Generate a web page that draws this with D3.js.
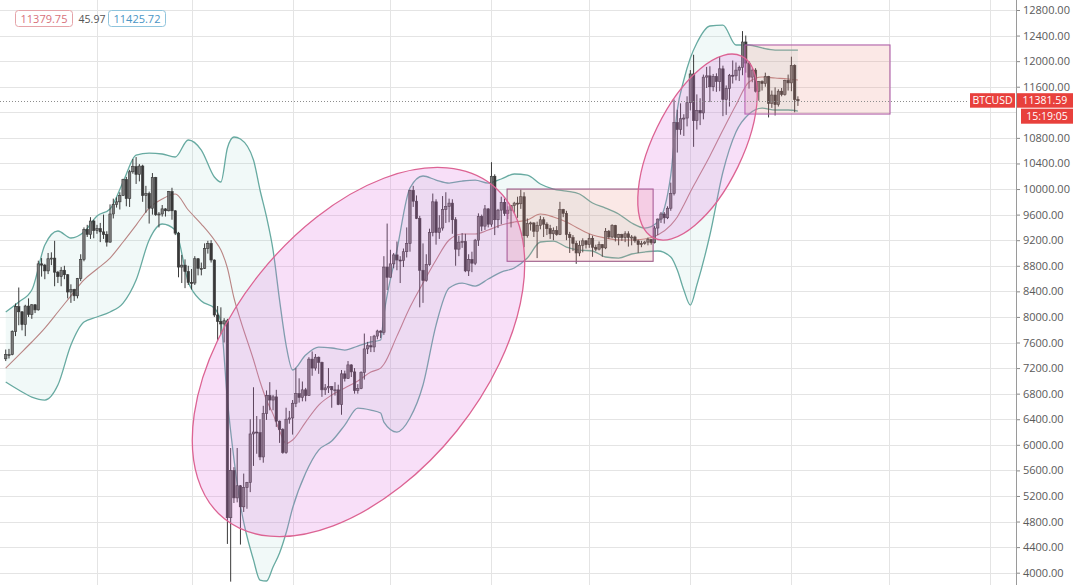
<!DOCTYPE html>
<html><head><meta charset="utf-8">
<script src="https://cdn.jsdelivr.net/npm/d3@7"></script>
<style>
body{margin:0;background:#fff;}
svg{display:block;font-family:"Open Sans",sans-serif;}
</style>
</head><body>
<svg id="chart" width="1080" height="585"></svg>
<script>
// ---------- DATA (BTCUSD daily) ----------
const firstDay = "2020-01-04";
const opens = [
 // Jan 4-31
 7345,7410,7410,7770,8160,8080,7880,8170,8040,8190,8110,8830,8810,8720,8910,8920,8700,8630,8730,8660,8390,8430,8330,8600,8900,9370,9290,9500,
 // Feb
 9350,9380,9330,9290,9170,9610,9760,9800,9900,10150,9850,10270,10350,10230,10360,9900,9930,9700,10180,9600,9610,9690,9660,9960,9660,9310,8780,8810,8710,
 // Mar
 8540,8530,8910,8760,8760,9070,9150,8890,8030,7930,7890,7940,4860,5600,5170,5360,5030,5330,5410,6170,6200,6190,5810,6490,6770,6700,6750,6370,6240,5880,6400,
 // Apr
 6420,6650,6800,6740,6860,6770,7340,7200,7370,7290,6860,6890,6910,6860,6860,6630,7110,7040,7250,7140,6850,6880,7130,7500,7550,7530,7700,7780,7760,8780,
 // May
 8620,8830,8970,8890,8880,9020,9150,9980,9810,9540,8730,8570,8820,9320,9800,9320,9390,9680,9730,9780,9520,9060,9170,9180,8720,8900,8840,9200,9570,9420,9690,
 // Jun
 9450,10200,9520,9670,9790,9620,9670,9740,9780,9770,9880,9270,9460,9470,9340,9430,9520,9450,9380,9300,9350,9290,9680,9620,9290,9240,9150,9000,9120,9190,
 // Jul
 9130,9230,9090,9060,9130,9080,9340,9250,9430,9240,9290,9240,9300,9240,9250,9190,9130,9150,9170,9210,9160,9390,9530,9610,9550,9700,9930,11040,10930,11100,11110,
 // Aug
 11350,11800,11070,11230,11190,11750,11770,11600,11760,11680,11880,11400,11570,11780,11770,11860,11900,12300,11970,11750,11860,11530,11680,11650,11760,11340,11470,11320,11530,11480,11700,
 // Sep 1-3
 11660,11930,11400
];
const highs = [
 7490,7500,7790,8210,8460,8090,8190,8290,8200,8200,8880,8920,8830,9000,9010,9190,8720,8780,8800,8670,8510,8440,8610,8980,9400,9440,9560,9520,
 9440,9470,9600,9340,9760,9850,9870,9950,10160,10190,10300,10470,10500,10390,10380,10050,9960,10250,10190,9640,9750,9700,9970,10020,9670,9330,8970,8900,8800,
 8750,8950,8920,8850,9150,9190,9200,8900,8170,8150,7980,7970,5950,5650,5950,5370,5550,5420,6400,6900,6450,6400,6610,6850,6980,6780,6860,6380,6260,6580,6530,
 6700,7200,7040,6990,6890,7370,7460,7420,7380,7300,6950,7200,6920,6980,6940,7170,7160,7310,7260,7200,6950,7150,7740,7610,7700,7720,7800,7790,8950,9460,
 9050,9000,9180,8950,9070,9400,9990,10050,9900,9580,9150,8980,9380,9930,9840,9590,9890,9950,9850,9840,9560,9270,9310,9300,8980,9020,9220,9620,9600,9750,9700,
 10420,10230,9690,9880,9850,9730,9750,9800,9880,9990,9950,9540,9490,9480,9490,9580,9560,9480,9440,9400,9420,9800,9690,9660,9330,9280,9190,9190,9230,9200,
 9300,9270,9130,9180,9140,9390,9360,9450,9440,9300,9300,9340,9340,9280,9270,9210,9190,9190,9240,9220,9420,9540,9640,9640,9730,10100,11400,11240,11340,11170,11450,
 11860,12100,11480,11420,11790,11910,11920,11800,11810,12070,11930,11620,11800,12010,11980,11930,12470,12400,12000,11890,11890,11690,11700,11820,11770,11540,11590,11560,11580,11710,11790,
 12070,11950,11450
];
const lows = [
 7310,7350,7400,7700,7870,7790,7700,8000,7970,8060,8100,8630,8590,8670,8810,8480,8530,8480,8590,8290,8220,8250,8290,8560,8870,9250,9220,9230,
 9300,9170,9220,9100,9160,9540,9710,9680,9890,9730,9720,10240,10080,10120,9800,9630,9460,9600,9580,9400,9570,9570,9650,9520,9280,8620,8530,8450,8500,
 8430,8500,8650,8650,8750,8990,8850,8000,7630,7730,7600,4450,3860,5090,5100,4440,4950,5000,5260,5670,5860,5760,5720,6390,6540,6540,6280,6030,5860,5860,6330,
 6160,6590,6660,6680,6680,6770,7080,7160,7110,6750,6780,6810,6580,6770,6620,6470,6990,7030,7060,6800,6800,6870,7020,7420,7450,7450,7650,7670,7720,8420,
 8620,8760,8730,8530,8780,8930,9020,9720,9530,8150,8220,8550,8800,9260,9130,9220,9350,9470,9480,9300,8800,8950,9080,8700,8640,8700,8810,9110,9340,9360,9400,
 9410,9280,9390,9450,9580,9530,9400,9620,9550,9690,9090,9240,9350,9250,8920,9370,9250,9280,9220,9200,9270,9280,9560,9200,9000,9030,8830,8950,9010,9070,
 9080,8940,9030,9040,8940,9060,9220,9230,9180,9120,9190,9170,9100,9120,9160,9000,9090,9130,9120,9130,9150,9280,9470,9460,9530,9660,9900,10570,10850,10830,10980,
 11230,10660,10930,11000,11090,11580,11360,11530,11520,11530,11140,11160,11290,11650,11700,11690,11780,11820,11570,11670,11510,11380,11540,11600,11120,11270,11150,11290,11450,11460,11540,
 11530,11200,11300
];
const closes = [
 7410,7410,7770,8160,8080,7880,8170,8040,8190,8110,8830,8810,8720,8910,8920,8700,8630,8730,8660,8390,8430,8330,8600,8900,9370,9290,9500,9350,
 9380,9330,9290,9170,9610,9760,9800,9900,10150,9850,10270,10350,10230,10360,9900,9930,9700,10180,9600,9610,9690,9660,9960,9660,9310,8780,8810,8710,8540,
 8530,8910,8760,8760,9070,9150,8890,8030,7930,7890,7940,4860,5600,5170,5360,5030,5330,5410,6170,6200,6190,5810,6490,6770,6700,6750,6370,6240,5880,6400,6420,
 6650,6800,6740,6860,6770,7340,7200,7370,7290,6860,6890,6910,6860,6860,6630,7110,7040,7250,7140,6850,6880,7130,7500,7550,7530,7700,7780,7760,8780,8620,
 8830,8970,8890,8880,9020,9150,9980,9810,9540,8730,8570,8820,9320,9800,9320,9390,9680,9730,9780,9520,9060,9170,9180,8720,8900,8840,9200,9570,9420,9690,9450,
 10200,9520,9670,9790,9620,9670,9740,9780,9770,9880,9270,9460,9470,9340,9430,9520,9450,9380,9300,9350,9290,9680,9620,9290,9240,9150,9000,9120,9190,9130,
 9230,9090,9060,9130,9080,9340,9250,9430,9240,9290,9240,9300,9240,9250,9190,9130,9150,9170,9210,9160,9390,9530,9610,9550,9700,9930,11040,10930,11100,11110,11350,
 11800,11070,11230,11190,11750,11770,11600,11760,11680,11880,11400,11570,11780,11770,11860,11900,12300,11970,11750,11860,11530,11680,11650,11760,11340,11470,11320,11530,11480,11700,11660,
 11930,11400,11380
];

// Bollinger bands
const bbDates = ["2020-01-04","2020-01-08","2020-01-12","2020-01-16","2020-01-20","2020-01-24","2020-01-28","2020-02-01","2020-02-05","2020-02-09",
 "2020-02-13","2020-02-17","2020-02-21","2020-02-25","2020-02-29","2020-03-04","2020-03-08","2020-03-10","2020-03-12","2020-03-14",
 "2020-03-16","2020-03-20","2020-03-22","2020-03-24","2020-03-26","2020-03-28","2020-03-30","2020-04-01","2020-04-05","2020-04-09",
 "2020-04-13","2020-04-17","2020-04-21","2020-04-25","2020-04-28","2020-04-29","2020-05-03","2020-05-07","2020-05-11","2020-05-15",
 "2020-05-19","2020-05-23","2020-05-27","2020-05-31","2020-06-04","2020-06-08","2020-06-12","2020-06-16","2020-06-20","2020-06-24",
 "2020-06-28","2020-07-02","2020-07-06","2020-07-10","2020-07-14","2020-07-18","2020-07-22","2020-07-26","2020-07-28","2020-07-30",
 "2020-08-01","2020-08-03","2020-08-07","2020-08-11","2020-08-15","2020-08-19","2020-08-23","2020-08-27","2020-08-31","2020-09-03"];
const bbUpper = [8077,8233,8421,9125,9344,9234,9328,9578,9688,10110,
 10532,10563,10548,10501,10767,10610,10188,10110,10642,10814,
 10782,10454,9985,9563,9046,8264,7561,7170,7404,7529,
 7514,7482,7545,7608,7639,8030,9046,10016,10204,10141,
 10094,10125,10141,10094,10157,10235,10219,10079,10000,9969,
 9922,9781,9703,9609,9469,9390,9484,10219,11236,11705,
 12049,12284,12550,12565,12253,12253,12206,12174,12174,12174];
const bbMiddle = [7201,7404,7608,7826,8077,8330,8580,8750,8921,9172,
 9437,9703,9844,9922,9672,9453,9203,9046,8765,8300,
 7952,7330,6990,6700,6480,6220,6020,6075,6356,6622,
 6779,6888,6998,7138,7200,7260,7700,8150,8530,8890,
 9203,9297,9297,9359,9437,9484,9516,9609,9563,9484,
 9375,9281,9234,9203,9203,9218,9281,9437,9563,9750,
 9954,10141,10517,10923,11314,11674,11752,11736,11721,11705];
const bbLower = [6982,6857,6747,6700,6935,7561,7920,7999,8077,8217,
 8577,9203,9453,9359,8546,8249,8139,7920,6700,5780,
 5058,4200,3885,3870,4089,4307,4620,5011,5559,5918,
 6059,6309,6575,6544,6497,6356,6200,6419,6935,7873,
 8452,8530,8483,8593,8702,8765,8921,9172,9187,9093,
 9046,9031,8937,8921,8984,9015,9031,8937,8734,8421,
 8186,8499,9281,10266,10892,11173,11267,11236,11236,11220];

const priceTicks = [4000,4400,4800,5200,5600,6000,6400,6800,7200,7600,8000,8400,8800,9200,9600,10000,10400,10800,11200,11600,12000,12400,12800];
const lastPrice = 11381.59;
const symbol = "BTCUSD";
const countdown = "15:19:05";
const legendValues = ["11379.75","45.97","11425.72"];

// Drawings: rectangles [start, end, top price, bottom price]
const rectStarts = ["2020-06-05T19:00:00Z","2020-08-17T18:00:00Z"];
const rectEnds   = ["2020-07-20T14:00:00Z","2020-10-01T06:00:00Z"];
const rectTops   = [10000, 12253];
const rectBottoms= [8870, 11173];
// Ellipses: centre, major-axis tip, minor-axis tip (date, price)
const ellCentreDates = ["2020-04-21T05:00:00Z","2020-08-03T05:00:00Z"];
const ellCentrePrices = [7451, 10657];
const ellMajorDates = ["2020-06-01T08:00:00Z","2020-08-16T17:00:00Z"];
const ellMajorPrices = [10060, 12079];
const ellMinorDates = ["2020-05-21T08:00:00Z","2020-08-15T15:00:00Z"];
const ellMinorPrices = [6216, 10351];

// ---------- CHART ----------
const W = 1080, H = 585, axisX = 1016;
const svg = d3.select("#chart");
const parseDay = d3.utcParse("%Y-%m-%d");
const start = parseDay(firstDay);
const dates = closes.map((_, i) => d3.utcDay.offset(start, i));

const x = d3.scaleUtc()
  .domain([new Date(Date.UTC(2020,0,1)), new Date(Date.UTC(2020,9,1))])
  .range([-4.06, 889.2]);
const y = d3.scaleLinear().domain([4000, 12800]).range([572.7, 10]);

svg.append("defs").append("clipPath").attr("id","plot")
  .append("rect").attr("x",0).attr("y",0).attr("width",axisX).attr("height",H);

const plot = svg.append("g").attr("clip-path","url(#plot)");

// grid
const months = d3.utcMonth.range(new Date(Date.UTC(2020,1,1)), new Date(Date.UTC(2020,10,2)));
plot.append("g").selectAll("line").data(months).join("line")
  .attr("x1", d => Math.round(x(d)) + 0.5).attr("x2", d => Math.round(x(d)) + 0.5)
  .attr("y1", 0).attr("y2", H).attr("stroke", "#e4e4e4").attr("stroke-width", 1);
plot.append("g").selectAll("line").data(priceTicks).join("line")
  .attr("x1", 0).attr("x2", axisX)
  .attr("y1", d => Math.round(y(d)) + 0.5).attr("y2", d => Math.round(y(d)) + 0.5)
  .attr("stroke", "#e4e4e4").attr("stroke-width", 1);

// Bollinger bands
const bb = bbDates.map((d, i) => ({date: parseDay(d), u: bbUpper[i], m: bbMiddle[i], l: bbLower[i]}));
plot.append("path").datum(bb)
  .attr("d", d3.area().x(d => x(d.date)).y0(d => y(d.l)).y1(d => y(d.u)).curve(d3.curveMonotoneX))
  .attr("fill", "rgba(130,200,190,0.11)");
const lineGen = key => d3.line().x(d => x(d.date)).y(d => y(d[key])).curve(d3.curveMonotoneX);
plot.append("path").datum(bb).attr("d", lineGen("u")).attr("fill","none").attr("stroke","#67aaa1").attr("stroke-width",1.3);
plot.append("path").datum(bb).attr("d", lineGen("l")).attr("fill","none").attr("stroke","#67aaa1").attr("stroke-width",1.3);
plot.append("path").datum(bb).attr("d", lineGen("m")).attr("fill","none").attr("stroke","#b98584").attr("stroke-width",1.1);

// candles
const candles = dates.map((d, i) => ({date: d, o: opens[i], h: highs[i], l: lows[i], c: closes[i]}));
const cg = plot.append("g");
cg.selectAll("line").data(candles).join("line")
  .attr("x1", d => x(d.date)).attr("x2", d => x(d.date))
  .attr("y1", d => y(d.h)).attr("y2", d => y(d.l))
  .attr("stroke", "#3a3a3a").attr("stroke-width", 1);
cg.selectAll("rect").data(candles).join("rect")
  .attr("x", d => x(d.date) - 1.2).attr("width", 2.4)
  .attr("y", d => y(Math.max(d.o, d.c)))
  .attr("height", d => Math.max(1, Math.abs(y(d.o) - y(d.c))))
  .attr("fill", d => d.c >= d.o ? "#7a7a7a" : "#383838")
  .attr("stroke", "#383838").attr("stroke-width", 0.6);

// rectangles
const iso = d3.isoParse;
rectStarts.forEach((s, i) => {
  const x0 = x(iso(s)), x1 = x(iso(rectEnds[i]));
  plot.append("rect")
    .attr("x", x0).attr("y", y(rectTops[i]))
    .attr("width", x1 - x0).attr("height", y(rectBottoms[i]) - y(rectTops[i]))
    .attr("fill", "rgba(236,140,130,0.2)")
    .attr("stroke", i === 0 ? "#9c5a87" : "#b060a8").attr("stroke-width", 1.1);
});

// ellipses
ellCentreDates.forEach((s, i) => {
  const cx = x(iso(s)), cy = y(ellCentrePrices[i]);
  const mx = x(iso(ellMajorDates[i])), my = y(ellMajorPrices[i]);
  const nx = x(iso(ellMinorDates[i])), ny = y(ellMinorPrices[i]);
  const a = Math.hypot(mx - cx, my - cy), b = Math.hypot(nx - cx, ny - cy);
  const ang = Math.atan2(my - cy, mx - cx) * 180 / Math.PI;
  plot.append("ellipse")
    .attr("cx", cx).attr("cy", cy).attr("rx", a).attr("ry", b)
    .attr("transform", `rotate(${ang} ${cx} ${cy})`)
    .attr("fill", "rgba(222,110,225,0.22)")
    .attr("stroke", "#dc6393").attr("stroke-width", 1.3);
});

// last price dotted line
const py = y(lastPrice);
plot.append("line")
  .attr("x1", 0).attr("x2", 968)
  .attr("y1", Math.round(py) + 0.5).attr("y2", Math.round(py) + 0.5)
  .attr("stroke", "#8d8d8d").attr("stroke-width", 1).attr("stroke-dasharray", "1,2");

// right price axis (the label under the last-price tags is covered, as in the source)
const labelTicks = priceTicks.filter(p => !(y(p) > py + 4 && y(p) < py + 26));
const axis = d3.axisRight(y).tickValues(labelTicks).tickFormat(d3.format(".2f")).tickSize(4).tickPadding(3);
const ag = svg.append("g").attr("transform", `translate(${axisX},0)`).call(axis);
ag.select(".domain").remove();
ag.selectAll(".tick line").attr("stroke", "#8a8a8a");
ag.selectAll(".tick text").attr("fill", "#5a5a5a").style("font-size", "11px").style("font-family", '"Open Sans", sans-serif');
svg.append("line").attr("x1", axisX + 0.5).attr("x2", axisX + 0.5).attr("y1", 0).attr("y2", H)
  .attr("stroke", "#9a9a9a").attr("stroke-width", 1);

// price labels
const red = "#e8403c";
const lblFont = "10.5px";
svg.append("rect").attr("x", 970).attr("y", py - 7.5).attr("width", 45).attr("height", 14.5).attr("fill", red);
svg.append("text").attr("x", 992.5).attr("y", py + 3.5).attr("text-anchor","middle")
  .attr("fill","#fff").style("font-size",lblFont).text(symbol);
svg.append("rect").attr("x", 1017).attr("y", py - 7.5).attr("width", 56).attr("height", 14.5).attr("fill", red);
svg.append("text").attr("x", 1045).attr("y", py + 3.5).attr("text-anchor","middle")
  .attr("fill","#fff").style("font-size",lblFont).text(d3.format(".2f")(lastPrice));
svg.append("rect").attr("x", 1021).attr("y", py + 8).attr("width", 52).attr("height", 15).attr("fill", red);
svg.append("text").attr("x", 1047).attr("y", py + 19.5).attr("text-anchor","middle")
  .attr("fill","#fff").style("font-size",lblFont).text(countdown);

// legend (top-left)
const lg = svg.append("g");
lg.append("rect").attr("x", 15.5).attr("y", 10.5).attr("width", 57).attr("height", 16).attr("rx", 3)
  .attr("fill", "#fff").attr("stroke", "#e5a3a8");
lg.append("text").attr("x", 44).attr("y", 22.5).attr("text-anchor","middle").attr("fill","#d8707a")
  .style("font-size","11px").text(legendValues[0]);
lg.append("text").attr("x", 92).attr("y", 22.5).attr("text-anchor","middle").attr("fill","#555")
  .style("font-size","10.5px").text(legendValues[1]);
lg.append("rect").attr("x", 108.5).attr("y", 10.5).attr("width", 57).attr("height", 16).attr("rx", 3)
  .attr("fill", "#fff").attr("stroke", "#8fc4dc");
lg.append("text").attr("x", 137).attr("y", 22.5).attr("text-anchor","middle").attr("fill","#4a95c4")
  .style("font-size","11px").text(legendValues[2]);
</script>
</body></html>
